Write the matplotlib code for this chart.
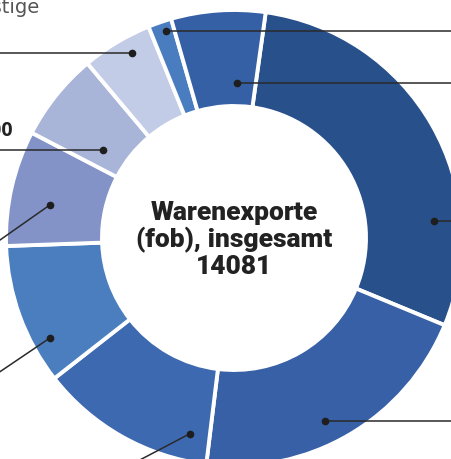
import matplotlib.pyplot as plt
import numpy as np

# Warenexporte (fob), Anteile je Warengruppe, im Uhrzeigersinn ab oben
values = [4087, 2914, 1760, 1408, 1154, 880, 704, 235, 939]
colors = ['#28508b', '#3860a6', '#3d69b1', '#4a7ebf', '#8393c8',
          '#a9b4d9', '#c3cce6', '#4a7dc0', '#3660a5']
total = 14081
center_title = "Warenexporte\n(fob), insgesamt\n" + str(total)

W, H = 451, 459
cx, cy = 234, H - 238
R_out, ring = 228, 96

# leader lines: dot (angle in deg, radius) and where the line leaves the picture
leaders = [(4.8, 201, 'r'), (-63.5, 204, 'r'), (257.3, 200.6, (141.7, 459)),
           (208.5, 209.4, (0, 371.7)), (169.8, 187, (0, 240)), (146.3, 158, 'l'),
           (118.8, 211, 'l'), (108.3, 218, 'r'), (89, 155.3, 'r')]

fig = plt.figure(figsize=(W / 100, H / 100), dpi=100)
ax = fig.add_axes([0, 0, 1, 1])

ax.pie(values, colors=colors, startangle=82, counterclock=False,
       center=(cx, cy), radius=R_out,
       wedgeprops=dict(width=ring, edgecolor='white', linewidth=2.8))

for ang, r, end in leaders:
    x0 = cx + r * np.cos(np.radians(ang))
    y0 = cy + r * np.sin(np.radians(ang))
    if end == 'r':
        x1, y1 = W + 10, y0
    elif end == 'l':
        x1, y1 = -10, y0
    else:
        ex, ey = end[0], H - end[1]
        # extend a bit past the edge
        x1 = x0 + (ex - x0) * 1.3
        y1 = y0 + (ey - y0) * 1.3
    ax.plot([x0, x1], [y0, y1], color='#2a2a2a', lw=1.1, solid_capstyle='butt')
    ax.plot(x0, y0, 'o', color='#1e1e1e', ms=4.5)

ax.text(cx, H - 240, center_title, ha='center', va='center',
        fontsize=19, fontweight='black', family='Roboto', color='#222222',
        linespacing=1.1)

ax.text(40, H - 13, "Sonstige", ha='right', va='baseline',
        fontsize=14, family='DejaVu Sans', color='#555555')
ax.text(13, H - 136, "900", ha='right', va='baseline',
        fontsize=14, fontweight='bold', family='Open Sans', color='#222222')

ax.set_xlim(0, W)
ax.set_ylim(0, H)
ax.set_aspect('equal')
ax.axis('off')

fig.savefig('out.png', dpi=100)
